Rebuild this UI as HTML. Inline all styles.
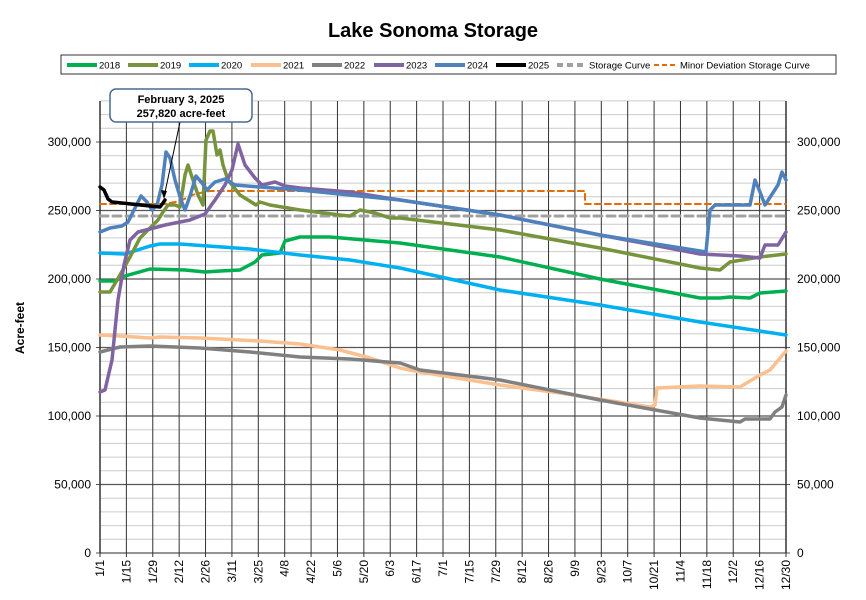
<!DOCTYPE html>
<html><head><meta charset="utf-8"><style>
body{margin:0;background:#fff;font-family:"Liberation Sans",Arial,sans-serif}
</style></head><body>
<svg width="866" height="595" xmlns="http://www.w3.org/2000/svg" font-family="Liberation Sans, Arial, sans-serif">
<rect width="866" height="595" fill="#fff"/>
<text x="433" y="37" text-anchor="middle" font-size="20" font-weight="bold">Lake Sonoma Storage</text>
<rect x="61" y="55" width="775" height="19" fill="#fff" stroke="#333" stroke-width="1"/>
<g font-size="9.5" fill="#000" stroke-width="4">
<line x1="67" y1="65" x2="97" y2="65" stroke="#00b050"/><text x="99" y="68.5">2018</text>
<line x1="128" y1="65" x2="158" y2="65" stroke="#77933c"/><text x="160" y="68.5">2019</text>
<line x1="189" y1="65" x2="219" y2="65" stroke="#00b0f0"/><text x="221" y="68.5">2020</text>
<line x1="251" y1="65" x2="281" y2="65" stroke="#fac090"/><text x="283" y="68.5">2021</text>
<line x1="312" y1="65" x2="342" y2="65" stroke="#808080"/><text x="344" y="68.5">2022</text>
<line x1="374" y1="65" x2="404" y2="65" stroke="#8064a2"/><text x="406" y="68.5">2023</text>
<line x1="435" y1="65" x2="465" y2="65" stroke="#4f81bd"/><text x="467" y="68.5">2024</text>
<line x1="496" y1="65" x2="526" y2="65" stroke="#000"/><text x="528" y="68.5">2025</text>
<line x1="557" y1="65" x2="587" y2="65" stroke="#a0a0a0" stroke-dasharray="6,4"/><text x="589" y="68.5">Storage Curve</text>
<line x1="654" y1="65" x2="678" y2="65" stroke="#e36c09" stroke-width="2" stroke-dasharray="5,3"/><text x="680" y="68.5">Minor Deviation Storage Curve</text>
</g>
<g id="grid"></g>
<g id="labels" font-size="12"></g>
<text transform="translate(24,328) rotate(-90)" text-anchor="middle" font-size="12" font-weight="bold">Acre-feet</text>
<g fill="none" stroke-linejoin="round" stroke-linecap="round">
<polyline stroke="#a0a0a0" stroke-width="3" stroke-dasharray="8,5" points="100,216 786,216"/>
<polyline stroke="#e36c09" stroke-width="2" stroke-dasharray="6,4" points="100,204 165,204 180,201 195,194 210,191 585,191 585,204 786,204"/>
<polyline stroke="#00b050" stroke-width="3.5" points="100,281 115,281 125,276 150,269 185,270 205,272 220,271 240,270 255,262 262,255 280,253 285,241 300,237 330,237 400,243 500,257 600,279 700,298 720,298 730,297 750,298 760,293 786,291"/>
<polyline stroke="#00b0f0" stroke-width="3.5" points="100,253 125,254 150,246 160,244 180,244 250,249 300,255 350,260 400,268 500,290 600,305 700,322 786,335"/>
<polyline stroke="#fac090" stroke-width="3.5" points="100,335 120,336 150,338 160,337 200,338 260,341 300,344 340,350 370,358 400,368 420,372 500,385 560,393 650,407 655,405 657,388 700,386 740,387 750,381 760,375 770,370 786,351"/>
<polyline stroke="#808080" stroke-width="3.5" points="100,352 120,347 150,346 200,348 250,352 300,357 350,359 400,363 420,370 500,380 600,400 700,418 740,422 745,419 770,419 775,412 782,407 786,395"/>
<polyline stroke="#77933c" stroke-width="3.5" points="100,292 110,292 120,275 130,257 140,238 150,228 158,220 163,212 168,205 175,205 180,207 185,175 188,165 193,180 198,195 203,205 206,140 210,131 213,131 217,155 220,150 223,165 228,180 240,195 256,205 260,202 270,205 300,210 340,215 350,216 360,210 375,213 390,218 400,218 500,230 600,248 700,268 720,270 730,262 760,257 786,254"/>
<polyline stroke="#8064a2" stroke-width="3.5" points="100,392 105,390 112,360 118,300 124,265 130,240 138,232 150,229 165,225 190,220 205,214 215,200 225,185 232,170 238,144 245,165 255,178 262,185 275,182 285,186 300,188 350,192 400,200 500,215 600,235 700,254 740,256 760,258 765,245 778,245 786,232"/>
<polyline stroke="#4f81bd" stroke-width="3.5" points="100,232 110,228 122,226 128,222 135,208 141,196 147,202 152,210 157,205 162,185 166,152 170,158 175,180 181,200 185,210 190,196 196,176 202,183 207,190 215,182 225,179 235,185 260,187 300,190 400,200 500,215 600,235 700,251 706,252 710,210 715,205 750,205 755,180 760,192 765,205 778,185 782,172 786,180"/>
<polyline stroke="#000" stroke-width="3.5" points="100,187 104,190 108,199 112,202 160,207 163,203 165,200"/>
</g>
<line x1="180" y1="122" x2="164" y2="197" stroke="#000" stroke-width="1"/>
<polygon points="164,199 161,190 167,191" fill="#000"/>
<rect x="110" y="89" width="142" height="33" rx="6" fill="#fff" stroke="#4a6890" stroke-width="1.5"/>
<text x="181" y="103" text-anchor="middle" font-size="11" font-weight="bold">February 3, 2025</text>
<text x="181" y="117" text-anchor="middle" font-size="11" font-weight="bold">257,820 acre-feet</text>
<script>
var g=document.getElementById('grid'),L=document.getElementById('labels'),ns='http://www.w3.org/2000/svg';
function el(p,t,a,txt){var e=document.createElementNS(ns,t);for(var k in a)e.setAttribute(k,a[k]);if(txt)e.textContent=txt;p.appendChild(e);return e;}
for(var v=0;v<=330;v+=10){var y=553-v*1.37;var maj=v%50==0;
el(g,'line',{x1:100,x2:786,y1:y,y2:y,stroke:maj?'#555':'#ccc','stroke-width':maj?1.3:1});
if(maj){var s=v==0?'0':v+',000';el(L,'text',{x:91,y:y+4,'text-anchor':'end'},s);el(L,'text',{x:797,y:y+4},s);
el(g,'line',{x1:96,x2:100,y1:y,y2:y,stroke:'#555'});el(g,'line',{x1:786,x2:790,y1:y,y2:y,stroke:'#555'});}}
var xl=['1/1','1/15','1/29','2/12','2/26','3/11','3/25','4/8','4/22','5/6','5/20','6/3','6/17','7/1','7/15','7/29','8/12','8/26','9/9','9/23','10/7','10/21','11/4','11/18','12/2','12/16','12/30'];
for(var i=0;i<27;i++){var x=100+i*686/26;el(g,'line',{x1:x,x2:x,y1:101,y2:557,stroke:'#333','stroke-width':1});
el(L,'text',{transform:'translate('+(x+4)+',560) rotate(-90)','text-anchor':'end'},xl[i]);}
el(g,'line',{x1:100,x2:100,y1:101,y2:553,stroke:'#333','stroke-width':1.5});
el(g,'line',{x1:786,x2:786,y1:101,y2:553,stroke:'#333','stroke-width':1.5});
</script>
</svg>
</body></html>
